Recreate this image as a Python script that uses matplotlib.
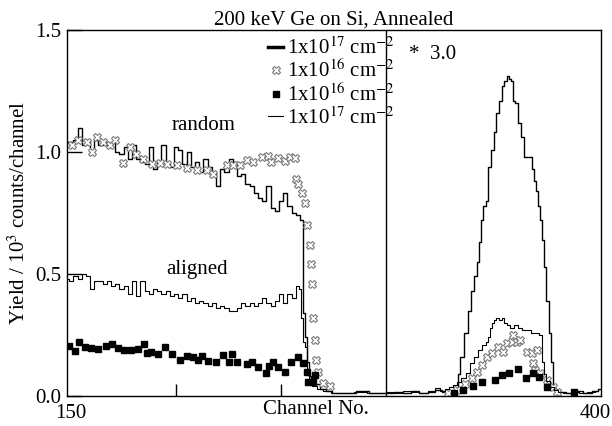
import matplotlib
matplotlib.use("Agg")
import matplotlib.pyplot as plt

plt.rcParams["font.family"] = ["Liberation Serif", "DejaVu Serif"]
plt.rcParams["mathtext.fontset"] = "stix"

# ---- spectra (yield in 10^3 counts/channel); right of channel 300 shown x3 ----
random17_ch = [148, 150, 152, 154, 156, 158, 160, 162, 164, 166, 168, 170, 172, 174, 176, 178,
               180, 182, 184, 186, 188, 190, 192, 194, 196, 198, 200, 202, 204, 206, 208, 210,
               212, 214, 216, 218, 220, 222, 224, 226, 228, 230, 232, 234, 236, 238, 240, 242,
               244, 246, 248, 250, 252, 254, 256, 258, 260,
               261, 262, 263, 264, 265, 267, 270, 273, 276, 280, 284, 287, 290, 294, 298,
               302, 306, 310, 314, 318, 322, 325, 328, 331, 334,
               335, 336, 338, 340, 341, 343, 344, 345, 346, 347, 348, 349, 351, 352, 353, 355,
               356, 357, 358, 359, 360, 361, 362, 364, 365, 367, 369, 370, 371, 372, 373, 374,
               375, 376, 377, 378, 379, 380, 381,
               384, 388, 392, 396, 400, 402]
random17_y = [1.04, 1.04, 1.05, 1.10, 1.03, 1.05, 1.00, 1.05, 1.03, 1.04, 1.02, 1.04, 1.00, 0.99, 1.02, 0.97,
              1.03, 0.97, 0.96, 0.95, 1.02, 0.93, 0.96, 1.03, 0.95, 0.94, 1.02, 1.01, 0.95, 1.00, 0.94, 0.96,
              0.92, 0.97, 0.94, 0.92, 0.86, 0.93, 0.92, 0.97, 0.96, 0.90, 0.91, 0.87, 0.86, 0.83, 0.81, 0.80,
              0.86, 0.77, 0.76, 0.80, 0.83, 0.78, 0.75, 0.74, 0.72,
              0.34, 0.24, 0.14, 0.08, 0.055, 0.05, 0.03, 0.02, 0.012, 0.012, 0.012, 0.02, 0.02, 0.012, 0.012,
              0.012, 0.018, 0.012, 0.02, 0.012, 0.015, 0.025, 0.015, 0.012, 0.02,
              0.09, 0.16, 0.26, 0.35, 0.43, 0.49, 0.55, 0.63, 0.72, 0.78, 0.80, 0.94, 1.01, 1.08, 1.16, 1.21,
              1.27, 1.29, 1.31, 1.30, 1.29, 1.21, 1.20, 1.12, 1.06, 0.98, 0.98, 0.93, 0.88, 0.84, 0.78, 0.72,
              0.64, 0.53, 0.39, 0.26, 0.14, 0.04, 0.02,
              0.015, 0.012, 0.02, 0.012, 0.02, 0.03]

aligned17_ch = [148, 150, 152, 154, 156, 158, 160, 162, 164, 166, 168, 170, 172, 174, 176, 178,
                180, 182, 184, 186, 188, 190, 192, 194, 196, 198, 200, 202, 204, 206, 208, 210,
                212, 214, 216, 218, 220, 222, 224, 226, 228, 230, 232, 234, 236, 238, 240, 242,
                244, 246, 248, 250, 252, 254, 256, 258,
                259, 260, 261, 262, 263, 264, 266, 268, 272, 276, 282, 288, 294, 298,
                302, 306, 310, 314, 318, 322, 325, 327, 329, 331, 333, 335, 337, 339, 341, 343,
                345, 347, 348, 349, 350, 351, 352, 353, 355, 356, 357, 358, 360, 362, 364, 366,
                368, 370, 372, 374, 375, 376, 377, 379, 381, 383, 386, 390, 394, 398, 401]
aligned17_y = [0.48, 0.47, 0.49, 0.48, 0.50, 0.49, 0.44, 0.47, 0.47, 0.46, 0.47, 0.45, 0.46, 0.44, 0.45, 0.42,
               0.47, 0.41, 0.47, 0.43, 0.42, 0.44, 0.43, 0.42, 0.43, 0.41, 0.42, 0.40, 0.42, 0.39, 0.40, 0.38,
               0.39, 0.38, 0.37, 0.38, 0.36, 0.37, 0.36, 0.35, 0.35, 0.36, 0.38, 0.37, 0.38, 0.37, 0.38, 0.40,
               0.38, 0.37, 0.39, 0.42, 0.38, 0.42, 0.40, 0.45,
               0.44, 0.32, 0.22, 0.20, 0.10, 0.06, 0.04, 0.03, 0.02, 0.012, 0.012, 0.018, 0.012, 0.012,
               0.015, 0.012, 0.02, 0.015, 0.012, 0.02, 0.033, 0.02, 0.03, 0.037, 0.045, 0.057, 0.075, 0.094, 0.135, 0.16,
               0.19, 0.21, 0.22, 0.24, 0.28, 0.30, 0.31, 0.32, 0.31, 0.32, 0.30, 0.29, 0.28, 0.29, 0.28, 0.27,
               0.27, 0.26, 0.26, 0.25, 0.14, 0.09, 0.06, 0.037, 0.025, 0.016, 0.012, 0.015, 0.012, 0.018, 0.02]

random16_ch = [150.5, 153.0, 157.6, 160.0, 162.4, 165.2, 168.6, 171.0, 174.8, 178.1, 181.0, 184.3, 188.6,
               192.4, 195.7, 200.5, 205.2, 210.0, 214.8, 217.6, 224.3, 227.1, 230.5, 233.8, 236.7,
               241.0, 243.8, 245.2, 248.6, 251.9, 254.3, 256.7, 257.0, 258.1, 260.0, 261.4, 262.4,
               263.8, 264.3, 264.8, 265.2, 266.2, 266.7, 267.6, 270.0, 273.3,
               329.5, 333.8, 337.6, 341.0, 343.3, 345.7, 348.1, 350.5, 353.3, 355.7, 357.6, 360.0,
               360.5, 362.4, 363.8, 367.1, 369.5, 370.0, 371.0, 371.9, 373.3, 376.7, 379.5, 381.4]
random16_y = [1.03, 1.05, 1.04, 1.00, 1.06, 1.04, 1.03, 1.05, 0.955, 1.02, 0.99, 0.97, 0.95,
              0.955, 0.95, 0.947, 0.934, 0.926, 0.925, 0.91, 0.947, 0.945, 0.945, 0.967, 0.96,
              0.98, 0.984, 0.96, 0.975, 0.963, 0.98, 0.975, 0.89, 0.87, 0.83, 0.79, 0.70,
              0.62, 0.54, 0.46, 0.32, 0.23, 0.148, 0.098, 0.053, 0.041,
              0.012, 0.025, 0.049, 0.074, 0.098, 0.127, 0.16, 0.176, 0.20, 0.18, 0.217, 0.22,
              0.25, 0.22, 0.23, 0.18, 0.176, 0.135, 0.107, 0.19, 0.094, 0.066, 0.037, 0.016]

aligned16_ch = [149.0, 151.9, 153.8, 156.7, 159.5, 162.9, 166.7, 169.5, 172.4, 175.2, 178.6, 181.9,
                184.8, 186.0, 188.1, 191.4, 194.8, 198.1, 201.9, 205.2, 208.1, 210.5, 212.4, 215.2,
                219.0, 222.4, 225.2, 226.7, 229.0, 233.8, 236.2, 239.0, 242.9, 244.3, 246.2, 248.6,
                251.9, 254.8, 258.1, 260.5, 262.4, 262.9, 265.2, 266.2,
                332.4, 336.7, 341.4, 345.7, 351.9, 355.2, 358.6, 362.9, 366.7, 370.0, 372.9, 376.7, 389.5]
aligned16_y = [0.205, 0.185, 0.22, 0.20, 0.197, 0.193, 0.205, 0.213, 0.197, 0.19, 0.19, 0.193,
               0.213, 0.176, 0.18, 0.172, 0.20, 0.172, 0.148, 0.164, 0.16, 0.148, 0.164, 0.143,
               0.139, 0.168, 0.139, 0.172, 0.139, 0.131, 0.139, 0.119, 0.094, 0.123, 0.139, 0.119,
               0.098, 0.139, 0.16, 0.135, 0.098, 0.057, 0.057, 0.086,
               0.012, 0.025, 0.041, 0.057, 0.066, 0.086, 0.094, 0.11, 0.074, 0.094, 0.078, 0.037, 0.016]

legend_labels = ["1x10$^{17}$ cm$^{-2}$", "1x10$^{16}$ cm$^{-2}$",
                 "1x10$^{16}$ cm$^{-2}$", "1x10$^{17}$ cm$^{-2}$"]
x_labeled = [150, 400]
x_marked = [200, 250]
y_ticks = [0.0, 0.5, 1.0, 1.5]
split_channel = 300
ge_scale = "3.0"

fig = plt.figure(figsize=(6.12, 4.26), dpi=100)
ax = fig.add_axes([0.1095, 0.0704, 0.8725, 0.8592])

l_rand17, = ax.plot(random17_ch, random17_y, drawstyle="steps-mid", color="black", lw=1.0)
m_rand16, = ax.plot(random16_ch, random16_y, ls="none", marker="X", ms=5.5,
                    mfc="white", mec="#7a7a7a", mew=0.8)
m_al16, = ax.plot(aligned16_ch, aligned16_y, ls="none", marker="s", ms=4.5,
                  mfc="black", mec="black")
l_al17, = ax.plot(aligned17_ch, aligned17_y, drawstyle="steps-mid", color="black", lw=0.8)

ax.axvline(split_channel, color="black", lw=1.0)

ax.set_xlim(148, 402.5)
ax.set_ylim(0, 1.5)
ax.set_xticks(x_labeled)
ax.set_xticklabels([str(v) for v in x_labeled])
ax.set_xticks(x_marked, minor=True)
ax.set_yticks(y_ticks)
ax.set_yticklabels([f"{v:.1f}" for v in y_ticks])
ax.tick_params(axis="x", which="major", direction="in", length=0, labelsize=15, pad=6)
ax.tick_params(axis="x", which="minor", direction="in", length=9, width=1.0)
ax.tick_params(axis="y", direction="in", length=11, width=1.0, labelsize=15, pad=4)
for s in ax.spines.values():
    s.set_linewidth(1.0)

ax.set_xlabel("Channel No.", fontsize=15)
ax.xaxis.set_label_coords(0.466, -0.012, transform=ax.transAxes)
ax.xaxis.label.set_va("top")
ax.set_ylabel("Yield / 10$^3$ counts/channel", fontsize=15, labelpad=4)
ax.set_title("200 keV Ge on Si, Annealed", fontsize=15, pad=2)

ax.text(213, 1.11, "random", fontsize=15, ha="center", va="center")
ax.text(210, 0.52, "aligned", fontsize=15, ha="center", va="center")
ax.text(311, 1.40, "*  " + ge_scale, fontsize=15, ha="left", va="center")

leg = ax.legend([l_rand17, m_rand16, m_al16, l_al17], legend_labels,
                loc="upper left", bbox_to_anchor=(0.35, 1.02), frameon=False,
                fontsize=15, handlelength=0.7, handletextpad=0.2, labelspacing=0.05,
                borderpad=0.2)
leg.get_lines()[0].set_linewidth(2.5)

fig.savefig("out.png", dpi=100)
